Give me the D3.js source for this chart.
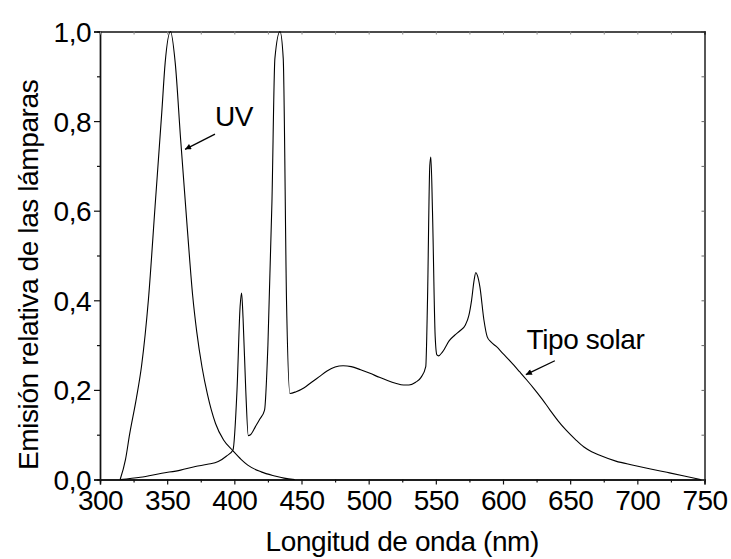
<!DOCTYPE html>
<html><head><meta charset="utf-8">
<script src="https://cdn.jsdelivr.net/npm/d3@7"></script>
<style>
html,body{margin:0;padding:0;background:#fff;}
svg text{font-family:"Liberation Sans",Arial,sans-serif;fill:#000;}
</style></head>
<body>
<svg id="chart" width="731" height="559"></svg>
<script>
// Wavelength (nm), relative emission
const uvWavelength = [315,319,322,327,331,336,341,346,348.5,352.5,356,360,365,369,372,376,380,386,392,399,405,410,420,430,437,445];
const uvEmission   = [0,0.045,0.10,0.18,0.255,0.40,0.61,0.82,0.93,1.0,0.93,0.76,0.56,0.41,0.33,0.25,0.19,0.125,0.088,0.064,0.045,0.032,0.017,0.008,0.003,0];

const solarWavelength = [315,330,346,360,371,380,388,394,399,402,404.3,405.4,406.5,408.5,410.4,412,415.7,419,422.5,425,428,430.2,434,436.4,438.9,441.4,446,452,457,463,469,475,481,487,494,501,508,514,520,526,530,535,539,542.5,543.8,545.5,546.3,547.5,549.5,550.8,552,555,560,564,568,572,574.5,576.6,578.5,579.8,581,582.8,585.8,588.2,591,595,600,606,612.5,618,623,629,635,641,647,654,660,666,672,684,697,709,722,734,747];
const solarEmission   = [0,0.005,0.014,0.021,0.029,0.034,0.040,0.052,0.066,0.20,0.386,0.416,0.36,0.2,0.098,0.100,0.118,0.135,0.155,0.30,0.62,0.94,1.0,0.94,0.39,0.192,0.196,0.205,0.216,0.229,0.242,0.251,0.254,0.252,0.245,0.237,0.228,0.221,0.215,0.211,0.211,0.217,0.228,0.252,0.40,0.70,0.72,0.60,0.32,0.278,0.276,0.285,0.31,0.322,0.332,0.345,0.365,0.40,0.445,0.462,0.455,0.43,0.356,0.319,0.307,0.297,0.281,0.262,0.240,0.221,0.203,0.180,0.155,0.131,0.110,0.089,0.073,0.062,0.054,0.041,0.032,0.024,0.016,0.0085,0];

const xMajorTicks = [300,350,400,450,500,550,600,650,700,750];
const xMinorTicks = [325,375,425,475,525,575,625,675,725];
const yMajorTicks = [0,0.2,0.4,0.6,0.8,1.0];
const yMinorTicks = [0.1,0.3,0.5,0.7,0.9];
const yTickLabels = ["0,0","0,2","0,4","0,6","0,8","1,0"];

const xTitle = "Longitud de onda (nm)";
const yTitle = "Emisión relativa de las lámparas";
const labels = [
  {text:"UV", tx:385.6, ty:0.789, ax1:385.6, ay1:0.771, ax2:363.3, ay2:0.737},
  {text:"Tipo solar", tx:617.5, ty:0.2906, ax1:638.6, ay1:0.265, ax2:617.0, ay2:0.234}
];

const W=731,H=559;
const m={left:100,right:731-704.5,top:31.5,bottom:559-479.5};
const svg=d3.select("#chart");
const x=d3.scaleLinear().domain([300,750]).range([m.left,W-m.right]);
const y=d3.scaleLinear().domain([0,1]).range([H-m.bottom,m.top]);
const FS=28;

const axStroke="#111", axW=1.4;
const gx=svg.append("g").attr("transform",`translate(0,${y(0)})`)
  .call(d3.axisBottom(x).tickValues(xMajorTicks).tickSize(5).tickPadding(6).tickFormat(d3.format("d")));
const gxm=svg.append("g").attr("transform",`translate(0,${y(0)})`)
  .call(d3.axisBottom(x).tickValues(xMinorTicks).tickSize(3).tickFormat(""));
const gy=svg.append("g").attr("transform",`translate(${x(300)},0)`)
  .call(d3.axisLeft(y).tickValues(yMajorTicks).tickSize(6).tickPadding(3).tickFormat((d,i)=>yTickLabels[i]));
const gym=svg.append("g").attr("transform",`translate(${x(300)},0)`)
  .call(d3.axisLeft(y).tickValues(yMinorTicks).tickSize(3).tickFormat(""));
const gt=svg.append("g").attr("transform",`translate(0,${y(1)})`)
  .call(d3.axisBottom(x).tickValues(xMajorTicks.concat(xMinorTicks)).tickSize(3).tickFormat(""));
const gr=svg.append("g").attr("transform",`translate(${x(750)},0)`)
  .call(d3.axisLeft(y).tickValues(yMajorTicks.concat(yMinorTicks)).tickSize(3).tickFormat(""));

[gx,gxm,gy,gym,gt,gr].forEach(g=>{
  g.selectAll("path.domain").attr("stroke",axStroke).attr("stroke-width",axW);
  g.selectAll(".tick line").attr("stroke",axStroke).attr("stroke-width",1.2);
});
gt.selectAll(".tick line").attr("stroke","#888").attr("stroke-width",1);
gr.selectAll(".tick line").attr("stroke","#666").attr("stroke-width",1);
gx.selectAll(".tick text").attr("font-size",FS).attr("font-family","Liberation Sans, Arial, sans-serif").attr("fill","#000").attr("letter-spacing","-0.5px");
gy.selectAll(".tick text").attr("font-size",FS).attr("font-family","Liberation Sans, Arial, sans-serif").attr("fill","#000").attr("dy","0.36em").attr("letter-spacing","-0.5px");

svg.append("text").attr("x",(x(300)+x(750))/2).attr("y",551).attr("text-anchor","middle")
  .attr("font-size",FS).attr("letter-spacing","-0.4px").text(xTitle);
svg.append("text").attr("transform",`translate(37.5,${470}) rotate(-90)`).attr("text-anchor","start")
  .attr("font-size",FS).attr("letter-spacing","-0.4px").text(yTitle);

const line=d3.line().x(d=>x(d[0])).y(d=>y(d[1])).curve(d3.curveMonotoneX);
const uv=d3.zip(uvWavelength,uvEmission);
const solar=d3.zip(solarWavelength,solarEmission);
svg.append("path").datum(uv).attr("d",line).attr("fill","none").attr("stroke","#000").attr("stroke-width",1.1);
svg.append("path").datum(solar).attr("d",line).attr("fill","none").attr("stroke","#000").attr("stroke-width",1.1);

svg.append("defs").append("marker").attr("id","arr").attr("viewBox","0 0 10 10")
  .attr("refX",10).attr("refY",5).attr("markerWidth",9).attr("markerHeight",6)
  .attr("markerUnits","userSpaceOnUse").attr("orient","auto")
  .append("path").attr("d","M0,0 L10,5 L0,10 z").attr("fill","#000");

labels.forEach(l=>{
  svg.append("text").attr("x",x(l.tx)).attr("y",y(l.ty)).attr("font-size",FS).attr("letter-spacing","-0.4px").text(l.text);
  svg.append("line").attr("x1",x(l.ax1)).attr("y1",y(l.ay1)).attr("x2",x(l.ax2)).attr("y2",y(l.ay2))
    .attr("stroke","#000").attr("stroke-width",1.3).attr("marker-end","url(#arr)");
});
</script>
</body></html>
